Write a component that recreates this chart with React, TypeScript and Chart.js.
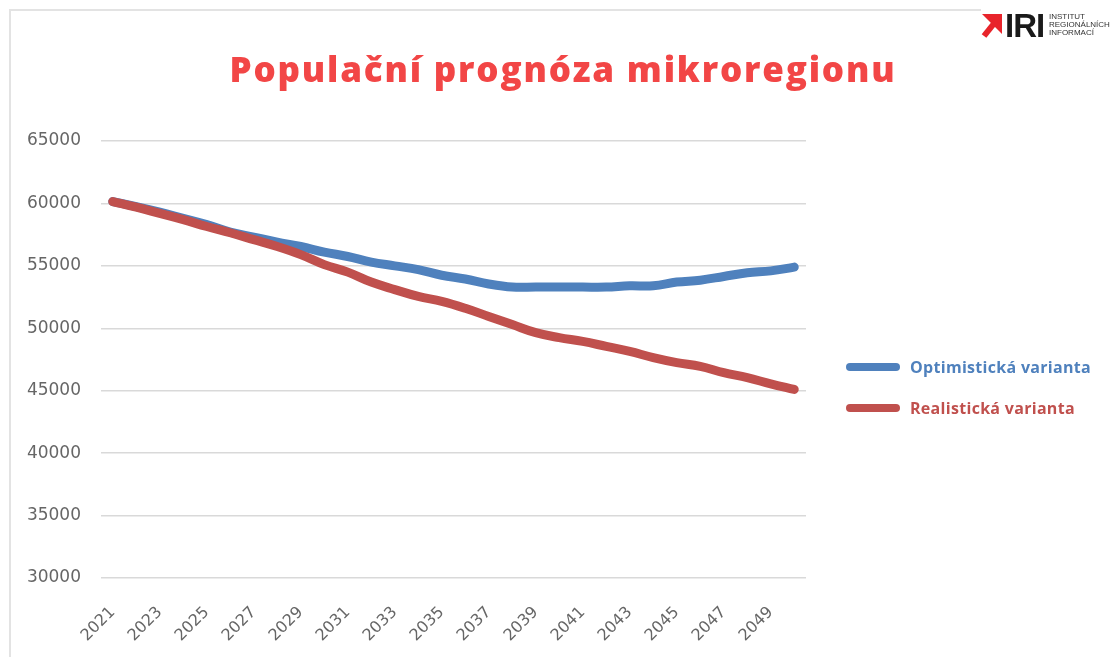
import React, { useEffect, useRef } from "react";
import { Chart, registerables } from "chart.js";

Chart.register(...registerables);

const years: string[] = [
  "2021", "2022", "2023", "2024", "2025", "2026", "2027", "2028", "2029", "2030",
  "2031", "2032", "2033", "2034", "2035", "2036", "2037", "2038", "2039", "2040",
  "2041", "2042", "2043", "2044", "2045", "2046", "2047", "2048", "2049", "2050",
];

const optimistic: number[] = [
  60150, 59750, 59300, 58800, 58300, 57700, 57300, 56900, 56550, 56100,
  55750, 55300, 55000, 54700, 54250, 53950, 53550, 53300, 53300, 53300,
  53300, 53300, 53400, 53400, 53700, 53850, 54150, 54450, 54600, 54900,
];

const realistic: number[] = [
  60150, 59700, 59200, 58700, 58150, 57650, 57100, 56550, 55900, 55100,
  54500, 53700, 53100, 52550, 52150, 51600, 50950, 50300, 49650, 49250,
  48950, 48550, 48150, 47650, 47250, 46950, 46450, 46050, 45550, 45100,
];

const yTicks: number[] = [30000, 35000, 40000, 45000, 50000, 55000, 60000, 65000];

const seriesNames: string[] = ["Optimistická varianta", "Realistická varianta"];
const seriesColors: string[] = ["#4F81BD", "#C0504D"];
const titleText = "Populační prognóza mikroregionu";

export default function App() {
  const canvasRef = useRef<HTMLCanvasElement | null>(null);

  useEffect(() => {
    if (!canvasRef.current) return;
    const chart = new Chart(canvasRef.current, {
      type: "line",
      data: {
        labels: years,
        datasets: [
          {
            label: seriesNames[0],
            data: optimistic,
            borderColor: seriesColors[0],
            backgroundColor: seriesColors[0],
            borderWidth: 9,
            pointRadius: 0,
            tension: 0.4,
            borderCapStyle: "round",
            borderJoinStyle: "round",
            order: 1,
          },
          {
            label: seriesNames[1],
            data: realistic,
            borderColor: seriesColors[1],
            backgroundColor: seriesColors[1],
            borderWidth: 9,
            pointRadius: 0,
            tension: 0.4,
            borderCapStyle: "round",
            borderJoinStyle: "round",
            order: 0,
          },
        ],
      },
      options: {
        responsive: false,
        animation: false,
        events: [],
        layout: { padding: { left: 23, right: 306, top: 141, bottom: 0 } },
        plugins: {
          legend: { display: false },
          tooltip: { enabled: false },
          title: { display: false },
        },
        scales: {
          x: {
            type: "category",
            offset: true,
            grid: { display: false, drawTicks: false },
            border: { display: false },
            afterFit: (s: any) => {
              s.height = 79;
            },
            ticks: {
              autoSkip: false,
              maxRotation: 45,
              minRotation: 45,
              padding: 25,
              color: "#666666",
              font: { family: "DejaVu Sans", size: 16 },
              callback: (_v: any, i: number) => (i % 2 === 0 ? years[i] : ""),
            },
          },
          y: {
            min: yTicks[0],
            max: yTicks[yTicks.length - 1],
            afterFit: (s: any) => {
              s.width = 78;
            },
            afterBuildTicks: (s: any) => {
              s.ticks = yTicks.map((v) => ({ value: v }));
            },
            grid: { color: "#D9D9D9", lineWidth: 1.5, drawTicks: false },
            border: { display: false },
            ticks: {
              padding: 20,
              color: "#666666",
              font: { family: "DejaVu Sans", size: 17 },
              callback: (v: any) => String(v),
            },
          },
        },
      },
    });
    return () => chart.destroy();
  }, []);

  return (
    <div
      style={{
        position: "fixed",
        left: 0,
        top: 0,
        width: 1112,
        height: 657,
        background: "#ffffff",
        overflow: "hidden",
      }}
    >
      <div
        style={{
          position: "absolute",
          left: 9,
          top: 9,
          width: 970,
          height: 660,
          borderLeft: "2px solid #E3E3E3",
          borderTop: "2px solid #E3E3E3",
        }}
      />
      <canvas
        ref={canvasRef}
        width={1112}
        height={657}
        style={{ position: "absolute", left: 0, top: 0, width: 1112, height: 657 }}
      />
      <div
        style={{
          position: "absolute",
          left: 0,
          width: 1126,
          top: 44,
          textAlign: "center",
          color: "#F24646",
          fontFamily: "'Open Sans', sans-serif",
          fontWeight: 800,
          fontSize: 35,
          letterSpacing: 1.8,
          lineHeight: "50px",
          whiteSpace: "nowrap",
        }}
      >
        {titleText}
      </div>
      {seriesNames.map((name, i) => (
        <div key={name}>
          <div
            style={{
              position: "absolute",
              left: 846,
              top: 363 + i * 41,
              width: 54,
              height: 8,
              borderRadius: 4,
              background: seriesColors[i],
            }}
          />
          <div
            style={{
              position: "absolute",
              left: 910,
              top: 356 + i * 41,
              lineHeight: "22px",
              fontFamily: "'Open Sans', sans-serif",
              fontWeight: 700,
              fontSize: 16,
              letterSpacing: 0.3,
              color: seriesColors[i],
              whiteSpace: "nowrap",
            }}
          >
            {name}
          </div>
        </div>
      ))}
      <svg
        style={{ position: "absolute", left: 979, top: 12 }}
        width={26}
        height={28}
        viewBox="0 0 26 28"
      >
        <polygon points="3,2 23,2 23,22" fill="#E8242B" />
        <line x1="5" y1="24" x2="17" y2="9" stroke="#E8242B" strokeWidth="6" />
      </svg>
      <div
        style={{
          position: "absolute",
          left: 1005,
          top: 8,
          fontFamily: "'Liberation Sans', Arial, sans-serif",
          fontWeight: 700,
          fontSize: 33,
          lineHeight: "36px",
          color: "#1a1a1a",
          letterSpacing: -1,
        }}
      >
        IRI
      </div>
      <div
        style={{
          position: "absolute",
          left: 1049,
          top: 13,
          fontFamily: "'Liberation Sans', Arial, sans-serif",
          fontSize: 8,
          lineHeight: "8px",
          color: "#333333",
          whiteSpace: "nowrap",
        }}
      >
        <div>INSTITUT</div>
        <div>REGIONÁLNÍCH</div>
        <div>INFORMACÍ</div>
      </div>
    </div>
  );
}
